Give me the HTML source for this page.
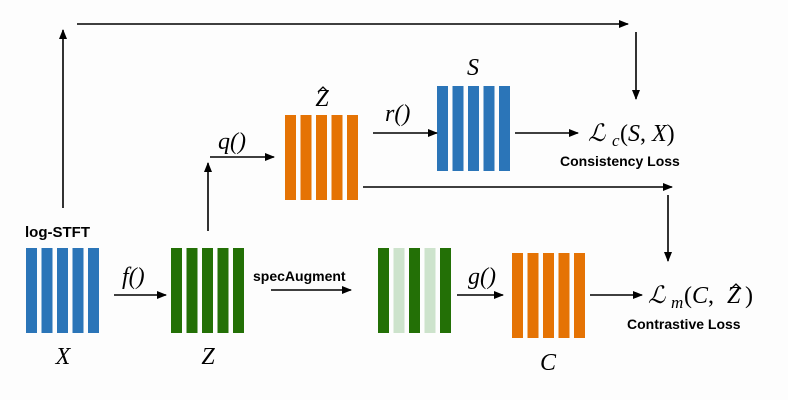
<!DOCTYPE html>
<html><head><meta charset="utf-8"><style>
html,body{margin:0;padding:0;background:#fdfdfd;}
svg{display:block;}
.m{font-family:"Liberation Serif","DejaVu Serif",serif;font-style:italic;fill:#000;}
.n{font-family:"Liberation Serif","DejaVu Serif",serif;fill:#000;}
.b{font-family:"Liberation Sans",sans-serif;font-weight:bold;fill:#000;}
</style></head><body>
<svg width="788" height="400" viewBox="0 0 788 400" xmlns="http://www.w3.org/2000/svg">
<defs><marker id="a" markerWidth="10" markerHeight="8" refX="9" refY="4" orient="auto" markerUnits="userSpaceOnUse"><path d="M0,0 L10,4 L0,8 z" fill="#000"/></marker></defs>
<rect width="788" height="400" fill="#fdfdfd"/>
<g fill="#2b75b8">
<rect x="26" y="248" width="11" height="85"/><rect x="41.5" y="248" width="11" height="85"/><rect x="57" y="248" width="11" height="85"/><rect x="72.5" y="248" width="11" height="85"/><rect x="88" y="248" width="11" height="85"/>
<rect x="437" y="86" width="11" height="85"/><rect x="452.5" y="86" width="11" height="85"/><rect x="468" y="86" width="11" height="85"/><rect x="483.5" y="86" width="11" height="85"/><rect x="499" y="86" width="11" height="85"/>
</g>
<g fill="#237006">
<rect x="171" y="248" width="11" height="85"/><rect x="186.5" y="248" width="11" height="85"/><rect x="202" y="248" width="11" height="85"/><rect x="217.5" y="248" width="11" height="85"/><rect x="233" y="248" width="11" height="85"/>
<rect x="378" y="248" width="11" height="85"/><rect x="409" y="248" width="11" height="85"/><rect x="440" y="248" width="11" height="85"/>
</g>
<g fill="#cde3cc"><rect x="393.5" y="248" width="11" height="85"/><rect x="424.5" y="248" width="11" height="85"/></g>
<g fill="#e57304">
<rect x="285" y="115" width="11" height="85"/><rect x="300.5" y="115" width="11" height="85"/><rect x="316" y="115" width="11" height="85"/><rect x="331.5" y="115" width="11" height="85"/><rect x="347" y="115" width="11" height="85"/>
<rect x="512" y="253" width="11" height="85"/><rect x="527.5" y="253" width="11" height="85"/><rect x="543" y="253" width="11" height="85"/><rect x="558.5" y="253" width="11" height="85"/><rect x="574" y="253" width="11" height="85"/>
</g>
<g stroke="#000" stroke-width="1.6" fill="none" marker-end="url(#a)">
<line x1="63" y1="208" x2="63" y2="30"/>
<line x1="77" y1="24" x2="628" y2="24"/>
<line x1="636" y1="32" x2="636" y2="99"/>
<line x1="208" y1="231" x2="208" y2="163"/>
<line x1="210" y1="157" x2="274" y2="157"/>
<line x1="373" y1="133" x2="437" y2="133"/>
<line x1="515" y1="133" x2="578" y2="133"/>
<line x1="363" y1="187" x2="672" y2="187"/>
<line x1="668" y1="195" x2="668" y2="261"/>
<line x1="114" y1="295" x2="166" y2="295"/>
<line x1="271" y1="290" x2="351" y2="290"/>
<line x1="457" y1="295" x2="503" y2="295"/>
<line x1="590" y1="295" x2="642" y2="295"/>
</g>
<text class="b" x="25" y="237" font-size="15">log-STFT</text>
<text class="b" x="253" y="281" font-size="14">specAugment</text>
<text class="b" x="560" y="166" font-size="14">Consistency Loss</text>
<text class="b" x="627" y="329" font-size="14">Contrastive Loss</text>
<text class="m" x="63" y="364" font-size="24" text-anchor="middle">X</text>
<text class="m" x="208" y="364" font-size="24" text-anchor="middle">Z</text>
<text class="m" x="548" y="370" font-size="24" text-anchor="middle">C</text>
<text class="m" x="473" y="75" font-size="24" text-anchor="middle">S</text>
<text class="m" x="322" y="106" font-size="24" text-anchor="middle">Z</text>
<polyline points="318,92 323,87 328,92" stroke="#000" stroke-width="1.3" fill="none"/>
<text class="m" x="122" y="284" font-size="24">f()</text>
<text class="m" x="218" y="149" font-size="24">q()</text>
<text class="m" x="385" y="121" font-size="24">r()</text>
<text class="m" x="468" y="284" font-size="24">g()</text>
<text class="m" x="588" y="141" font-size="24">ℒ</text>
<text class="m" x="612" y="146" font-size="17">c</text>
<text class="n" x="620" y="141" font-size="24">(<tspan font-style="italic">S</tspan>, <tspan font-style="italic">X</tspan>)</text>
<text class="m" x="648" y="303" font-size="24">ℒ</text>
<text class="m" x="671" y="308" font-size="17">m</text>
<text class="n" x="684" y="303" font-size="24">(<tspan font-style="italic">C</tspan>,</text>
<text class="m" x="727" y="303" font-size="24">Z</text>
<polyline points="731,289 736,284 741,289" stroke="#000" stroke-width="1.3" fill="none"/>
<text class="n" x="745" y="303" font-size="24">)</text>
</svg>
</body></html>
